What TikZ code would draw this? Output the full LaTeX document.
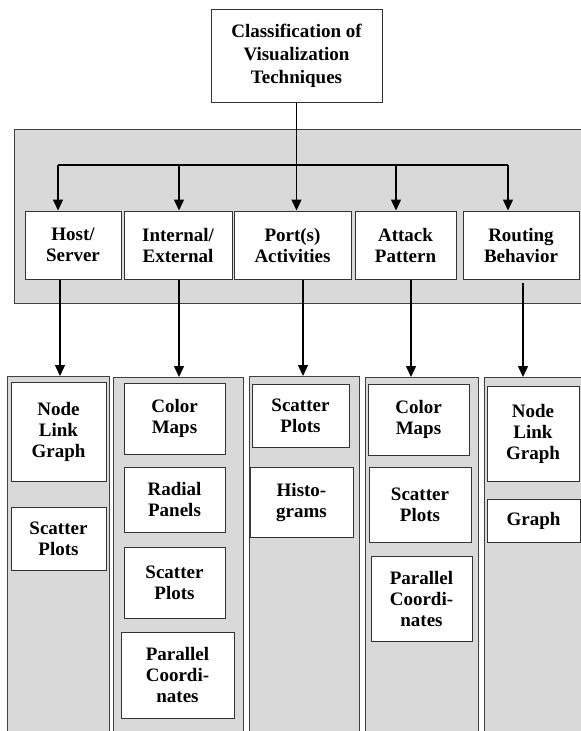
\documentclass[tikz,border=0pt]{standalone}
\usepackage{fontspec}
\setmainfont{Liberation Serif}
\usetikzlibrary{arrows.meta}
\definecolor{panelgray}{HTML}{D9D9D9}
\begin{document}
\begin{tikzpicture}[x=1pt,y=-1pt]

\tikzset{box/.style = {draw=black!80, fill=white, line width=1pt, align=center, inner sep=0pt,
  font=\bfseries\fontsize{19}{21}\selectfont}}
\tikzset{panel/.style = {draw=black!75, fill=panelgray, line width=1.2pt, inner sep=0pt, anchor=north west}}
\tikzset{edge/.style = {line width=1.4pt, -{Triangle[width=10pt,length=11pt]}}}
\tikzset{bus/.style = {line width=1.4pt}}

\useasboundingbox (0,0) rectangle (581,731);
\fill[white] (0,0) rectangle (581,731);
\clip (0,0) rectangle (581,731);

%panels
\node[panel, minimum width=580pt, minimum height=174pt] (mid) at (14,129) {};
\node[panel, minimum width=102pt, minimum height=370pt] (c1) at (7,376) {};
\node[panel, minimum width=130pt, minimum height=370pt] (c2) at (113,377) {};
\node[panel, minimum width=110pt, minimum height=370pt] (c3) at (249,376) {};
\node[panel, minimum width=113pt, minimum height=370pt] (c4) at (365,377) {};
\node[panel, minimum width=120pt, minimum height=370pt] (c5) at (484,377) {};

%root
\node[box, minimum width=171pt, minimum height=93pt, font=\bfseries\fontsize{19}{23}\selectfont]
  (root) at (296.5,55.5) {Classification of\\Visualization\\Techniques};

%categories
\node[box, minimum width=96pt, minimum height=68pt] (host) at (73,245) {Host/\\Server};
\node[box, minimum width=108pt, minimum height=68pt] (inex) at (178,245) {Internal/\\External};
\node[box, minimum width=117pt, minimum height=68pt] (port) at (292.5,245) {Port(s)\\Activities};
\node[box, minimum width=101pt, minimum height=68pt] (attack) at (405.5,245) {Attack\\Pattern};
\node[box, minimum width=116pt, minimum height=68pt] (route) at (521,245) {Routing\\Behavior};

%techniques
\node[box, minimum width=95pt, minimum height=99pt] (nlg1) at (58.5,431.5) {Node\\Link\\Graph};
\node[box, minimum width=95pt, minimum height=63pt] (sp1) at (58.5,538.5) {Scatter\\Plots};

\node[box, minimum width=101pt, minimum height=71pt] (cm2) at (174.5,418.5) {Color\\Maps};
\node[box, minimum width=101pt, minimum height=65pt] (rp2) at (174.5,499.5) {Radial\\Panels};
\node[box, minimum width=101pt, minimum height=71pt] (sp2) at (174.5,582.5) {Scatter\\Plots};
\node[box, minimum width=113pt, minimum height=86pt] (pc2) at (177.5,675) {Parallel\\Coordi-\\nates};

\node[box, minimum width=97pt, minimum height=63pt] (sp3) at (300.5,415.5) {Scatter\\Plots};
\node[box, minimum width=103pt, minimum height=70pt] (hg3) at (301.5,502) {Histo-\\grams};

\node[box, minimum width=101pt, minimum height=71pt] (cm4) at (418.5,419.5) {Color\\Maps};
\node[box, minimum width=102pt, minimum height=75pt] (sp4) at (420,504.5) {Scatter\\Plots};
\node[box, minimum width=101pt, minimum height=85pt] (pc4) at (421.5,598.5) {Parallel\\Coordi-\\nates};

\node[box, minimum width=92pt, minimum height=95pt] (nlg5) at (533,433.5) {Node\\Link\\Graph};
\node[box, minimum width=93pt, minimum height=43pt] (gr5) at (533.5,520.5) {Graph};

%bus points
\coordinate (b1) at (58,165);
\coordinate (b2) at (179,165);
\coordinate (b4) at (396,165);
\coordinate (b5) at (508,165);
\coordinate (d1) at (60,376);
\coordinate (d2) at (179,377);
\coordinate (d3) at (303,376);
\coordinate (d4) at (411,377);
\coordinate (d5) at (523,377);

%edges
\draw[edge] (root.south) -- (root.south |- port.north);
\draw[bus] (b1) -- (b5);
\draw[edge] (b1) -- (b1 |- host.north);
\draw[edge] (b2) -- (b2 |- inex.north);
\draw[edge] (b4) -- (b4 |- attack.north);
\draw[edge] (b5) -- (b5 |- route.north);

\draw[edge] (host.south -| d1) -- (d1);
\draw[edge] (inex.south -| d2) -- (d2);
\draw[edge] (port.south -| d3) -- (d3);
\draw[edge] (attack.south -| d4) -- (d4);
\draw[edge] ([yshift=-3pt]route.south -| d5) -- (d5);

\end{tikzpicture}
\end{document}
